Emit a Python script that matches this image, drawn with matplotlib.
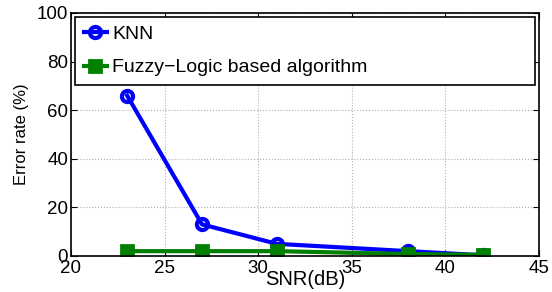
import matplotlib
matplotlib.use("Agg")
import matplotlib.pyplot as plt

snr = [23, 27, 31, 38, 42]
knn_error = [66, 13, 5, 2, 0.3]
fuzzy_error = [2, 2, 2, 0.8, 0.5]

plt.rcParams["font.family"] = ["Liberation Sans", "DejaVu Sans"]

fig = plt.figure(figsize=(5.52, 2.92), dpi=100)
ax = fig.add_axes([71 / 552, 1 - 256 / 292, (539 - 71) / 552, (256 - 13) / 292])

ax.plot(snr, knn_error, color="blue", linewidth=3, marker="o", markersize=8,
        markerfacecolor="none", markeredgewidth=3, label="KNN")
ax.plot(snr, fuzzy_error, color="green", linewidth=3, marker="s", markersize=8,
        markeredgewidth=2, label="Fuzzy\u2212Logic based algorithm")

ax.set_xlim(20, 45)
ax.set_ylim(0, 100)
ax.set_xticks([20, 25, 30, 35, 40, 45])
ax.set_yticks([0, 20, 40, 60, 80, 100])
ax.grid(True, linestyle=":", color="#b0b0b0", linewidth=0.8)
ax.tick_params(direction="in", top=True, right=True, labelsize=13.5, length=4)
ax.tick_params(axis="x", pad=3)
ax.tick_params(axis="y", pad=2)
for s in ax.spines.values():
    s.set_linewidth(1.2)

ax.set_xlabel("SNR(dB)", fontsize=14.5, labelpad=-5)
ax.set_ylabel("Error rate (%)", fontsize=12, labelpad=6)

leg = ax.legend(loc="upper left", bbox_to_anchor=(0.0085, 0.70, 0.983, 0.284),
                mode="expand", borderaxespad=0,
                fontsize=14, fancybox=False, edgecolor="black", framealpha=1,
                handlelength=1.2, handletextpad=0.25, borderpad=0.45,
                labelspacing=0.8)
leg.get_frame().set_linewidth(1.2)

fig.savefig("out.png", dpi=100)
